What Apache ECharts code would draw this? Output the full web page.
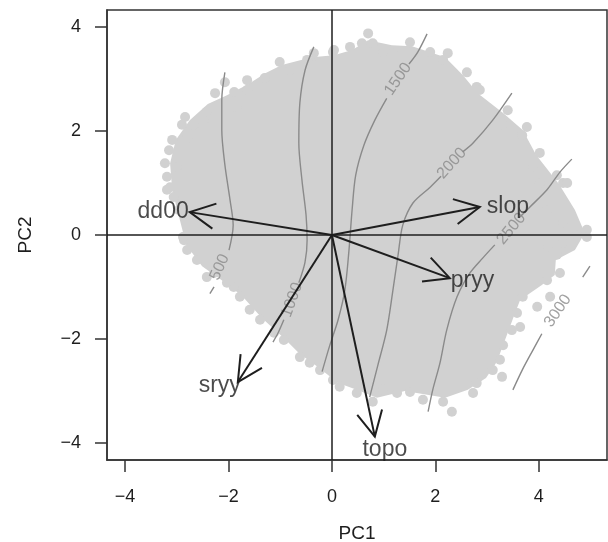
<!DOCTYPE html>
<html>
<head>
    <meta charset="utf-8">
    <title>PCA biplot</title>
    <script src="https://cdn.jsdelivr.net/npm/echarts@6/dist/echarts.min.js"></script>
</head>
<body style="margin:0">
<div id="main" style="width: 608px;height:542px;"></div>
<script type="text/javascript">

        // axis ticks
        var xTicks = [-4, -2, 0, 2, 4];
        var yTicks = [-4, -2, 0, 2, 4];

        // dense body of the score cloud (outline, PC1/PC2)
        var cloudCore = [
            [-2.90, 0.13], [-3.09, 0.87], [-3.13, 1.38], [-3.02, 1.83], [-2.75, 2.21], [-2.40, 2.52],
            [-2.03, 2.69], [-1.62, 2.90], [-1.28, 3.12], [-0.97, 3.27], [-0.39, 3.42], [0.04, 3.46],
            [0.39, 3.56], [0.70, 3.75], [1.16, 3.65], [1.55, 3.63], [2.19, 3.42], [2.53, 3.08],
            [2.82, 2.73], [3.31, 2.35], [3.69, 2.02], [3.95, 1.54], [4.39, 0.98], [4.70, 0.48],
            [4.89, 0.04], [4.70, -0.29], [4.33, -0.48], [4.31, -0.77], [4.06, -0.96], [3.64, -1.25],
            [3.52, -1.56], [3.40, -1.88], [3.19, -2.44], [2.98, -2.75], [2.63, -2.98], [2.19, -3.13],
            [1.41, -3.00], [0.87, -3.13], [0.48, -2.98], [0.12, -2.85], [-0.27, -2.54], [-0.62, -2.29],
            [-0.93, -1.98], [-1.35, -1.60], [-1.74, -1.17], [-2.13, -0.87], [-2.51, -0.60], [-2.82, -0.19]
        ];

        // scattered scores along the ragged edge of the cloud
        var cloudDots = [
            [-1.01, 3.33], [-0.81, 3.17], [-1.30, 3.02], [-1.64, 2.98], [-1.64, 2.79], [-1.89, 2.75],
            [-2.07, 2.94], [-2.26, 2.73], [-2.42, 2.37], [-2.84, 2.27], [-2.67, 2.12], [-2.90, 2.12],
            [-3.09, 1.83], [-2.80, 1.87], [-3.15, 1.63], [-3.23, 1.38], [-3.00, 1.31], [-3.19, 1.12],
            [-3.19, 0.87], [-3.06, 0.73], [-2.96, 0.48], [-0.35, 3.50], [0.04, 3.56], [-0.48, 3.37],
            [-0.23, 3.31], [-1.84, 2.46], [-2.48, 2.21], [0.70, 3.88], [0.35, 3.62], [0.58, 3.69],
            [0.02, 3.52], [0.79, 3.69], [0.99, 3.52], [1.18, 3.50], [1.51, 3.71], [1.90, 3.52],
            [2.24, 3.50], [2.15, 3.37], [2.61, 3.13], [2.80, 2.85], [2.86, 2.79], [3.40, 2.40],
            [3.31, 2.12], [3.77, 2.08], [3.68, 1.92], [4.02, 1.58], [3.89, 1.31], [4.47, 1.00],
            [4.35, 1.15], [4.55, 1.00], [4.02, 1.00], [4.16, 0.48], [4.47, 0.23], [4.93, 0.10],
            [4.74, 0.10], [4.74, 0.00], [4.93, -0.04], [4.47, -0.15], [4.35, -0.38], [4.18, -0.23],
            [4.41, -0.73], [4.16, -0.87], [4.22, -1.19], [3.69, -1.19], [3.97, -1.38], [3.58, -1.50],
            [3.64, -1.77], [3.48, -1.83], [3.31, -2.12], [3.25, -2.40], [3.29, -2.73], [3.11, -2.60],
            [2.73, -3.04], [2.80, -2.85], [2.32, -3.40], [2.15, -3.21], [1.76, -3.17], [1.51, -3.02],
            [1.26, -3.04], [0.79, -3.21], [0.99, -2.98], [0.48, -3.04], [0.15, -2.92], [0.02, -2.79],
            [-0.23, -2.60], [-0.43, -2.46], [-0.62, -2.35], [-0.93, -2.02], [-1.12, -1.88], [-1.39, -1.63],
            [-1.59, -1.44], [-1.78, -1.19], [-1.90, -1.00], [-2.03, -0.92], [-2.28, -0.73], [-2.42, -0.81],
            [-2.61, -0.48], [-2.80, -0.29], [-2.86, -0.10], [-3.13, 0.92], [-2.88, -0.04]
        ];

        // elevation contours, each split where its label sits
        var contourLevels = [500, 1000, 1500, 2000, 2500, 3000];
        var contourLines = [
            [[[-2.07, 3.13], [-2.13, 2.60], [-2.13, 2.02], [-2.07, 1.35], [-1.97, 0.67], [-1.91, 0.19], [-1.99, -0.29]],
             [[-2.28, -1.00], [-2.36, -1.13]]],
            [[[-0.35, 3.62], [-0.52, 3.17], [-0.62, 2.54], [-0.64, 1.77], [-0.58, 1.06], [-0.50, 0.38], [-0.48, -0.10], [-0.52, -0.52], [-0.64, -0.92]],
             [[-0.93, -1.63], [-1.04, -1.88], [-1.14, -2.06]]],
            [[[1.84, 3.87], [1.66, 3.52], [1.49, 3.29]],
             [[1.06, 2.63], [0.83, 2.21], [0.62, 1.73], [0.46, 1.15], [0.39, 0.48], [0.33, -0.29], [0.25, -1.06], [0.12, -1.63], [-0.04, -2.12], [-0.19, -2.63]]],
            [[[3.48, 2.73], [3.11, 2.21], [2.73, 1.77], [2.53, 1.60]],
             [[2.11, 1.13], [1.90, 0.92], [1.57, 0.62], [1.37, 0.19], [1.28, -0.38], [1.18, -1.06], [1.06, -1.83], [0.89, -2.50], [0.73, -3.12]]],
            [[[4.64, 1.46], [4.41, 1.21], [4.16, 0.87], [3.83, 0.54], [3.62, 0.33]],
             [[3.15, -0.19], [2.92, -0.44], [2.67, -0.73], [2.42, -1.19], [2.22, -1.83], [2.09, -2.46], [1.95, -2.98], [1.86, -3.40]]],
            [[[4.99, -0.60], [4.85, -0.81]],
             [[4.06, -1.90], [3.89, -2.21], [3.68, -2.60], [3.50, -2.98]]]
        ];
        var contourLabelAt = [[-2.17, -0.62], [-0.77, -1.25], [1.28, 3.00], [2.32, 1.38], [3.47, 0.12], [4.37, -1.46]];
        var contourLabelAngle = [66, 70, 56, 48, 50, 56];

        // variable loadings (arrow tips)
        var varNames = ['dd00', 'slop', 'pryy', 'sryy', 'topo'];
        var loadings = [[-2.75, 0.44], [2.86, 0.54], [2.28, -0.83], [-1.82, -2.83], [0.83, -3.88]];
        var varLabelPlace = {
            dd00: {position: 'left', distance: 1, offset: [0, 0]},
            slop: {position: 'right', distance: 7, offset: [0, 0]},
            pryy: {position: 'right', distance: 1, offset: [0, 3]},
            sryy: {position: 'left', distance: -3, offset: [0, 4]},
            topo: {position: 'bottom', distance: 2, offset: [10, 0]}
        };

        var ink = '#1e1e1e';
        var cloudGrey = '#d1d1d1';
        var contourGrey = '#8a8a8a';
        var fontFam = 'Liberation Sans, Arial, sans-serif';

        function minusFmt(v){
            return String(v).replace('-', '\u2212');
        }

        function buildOption(){
            var series = [];

            series.push({
                type: 'custom',
                silent: true,
                clip: true,
                data: [[0, 0]],
                renderItem: function (params, api) {
                    return {
                        type: 'polygon',
                        shape: {points: cloudCore.map(function (p) { return api.coord(p); })},
                        style: {fill: cloudGrey}
                    };
                },
                z: 1
            });

            series.push({
                type: 'scatter',
                silent: true,
                symbolSize: 10,
                itemStyle: {color: cloudGrey, opacity: 1},
                data: cloudDots,
                z: 2
            });

            contourLines.forEach(function (segs) {
                segs.forEach(function (seg) {
                    series.push({
                        type: 'line',
                        silent: true,
                        smooth: 0.3,
                        showSymbol: false,
                        symbol: 'none',
                        lineStyle: {color: contourGrey, width: 1.4},
                        data: seg,
                        z: 3
                    });
                });
            });

            series.push({
                type: 'scatter',
                silent: true,
                symbolSize: 0,
                data: contourLevels.map(function (lv, i) {
                    return {
                        value: contourLabelAt[i],
                        label: {
                            show: true, position: 'inside', rotate: contourLabelAngle[i],
                            formatter: String(lv), color: contourGrey,
                            fontSize: 16, fontFamily: fontFam
                        }
                    };
                }),
                z: 4
            });

            // crosshair through the origin
            series.push({
                type: 'line',
                silent: true,
                data: [],
                markLine: {
                    silent: true,
                    symbol: 'none',
                    label: {show: false},
                    lineStyle: {color: ink, width: 1.5, type: 'solid'},
                    data: [{xAxis: 0}, {yAxis: 0}]
                },
                z: 5
            });

            // loading arrows
            series.push({
                type: 'custom',
                silent: true,
                data: loadings,
                renderItem: function (params, api) {
                    var o = api.coord([0, 0]);
                    var t = api.coord([api.value(0), api.value(1)]);
                    var ang = Math.atan2(t[1] - o[1], t[0] - o[0]);
                    var len = 28, spread = 0.47;
                    var a1 = [t[0] - len * Math.cos(ang - spread), t[1] - len * Math.sin(ang - spread)];
                    var a2 = [t[0] - len * Math.cos(ang + spread), t[1] - len * Math.sin(ang + spread)];
                    var st = {stroke: ink, lineWidth: 2, fill: null};
                    return {
                        type: 'group',
                        children: [
                            {type: 'line', shape: {x1: o[0], y1: o[1], x2: t[0], y2: t[1]}, style: st},
                            {type: 'polyline', shape: {points: [a1, t, a2]}, style: st}
                        ]
                    };
                },
                z: 6
            });

            series.push({
                type: 'scatter',
                silent: true,
                symbolSize: 0,
                data: varNames.map(function (nm, i) {
                    var pl = varLabelPlace[nm];
                    return {
                        value: loadings[i],
                        label: {
                            show: true, formatter: nm, position: pl.position,
                            distance: pl.distance, offset: pl.offset,
                            color: ink, fontSize: 23, fontFamily: fontFam
                        }
                    };
                }),
                z: 7
            });

            var axisText = {color: ink, fontSize: 18, fontFamily: fontFam, formatter: minusFmt};
            return {
                animation: false,
                backgroundColor: '#fff',
                grid: {
                    left: 107, right: 1, top: 10, bottom: 82,
                    outerBoundsMode: 'none',
                    show: true, borderColor: '#333', borderWidth: 1.5
                },
                xAxis: {
                    type: 'value', min: -4.35, max: 5.32,
                    name: 'PC1', nameLocation: 'middle', nameGap: 64,
                    nameTextStyle: {color: ink, fontSize: 19, fontFamily: fontFam},
                    splitLine: {show: false},
                    axisLine: {show: true, onZero: false, lineStyle: {color: '#333', width: 1.5}},
                    axisTick: {show: true, length: 12, customValues: xTicks, lineStyle: {color: '#333', width: 1.5}},
                    axisLabel: Object.assign({margin: 28, customValues: xTicks}, axisText)
                },
                yAxis: {
                    type: 'value', min: -4.33, max: 4.33,
                    name: 'PC2', nameLocation: 'middle', nameGap: 72, nameRotate: 90,
                    nameTextStyle: {color: ink, fontSize: 19, fontFamily: fontFam},
                    splitLine: {show: false},
                    axisLine: {show: true, onZero: false, lineStyle: {color: '#333', width: 1.5}},
                    axisTick: {show: true, length: 12, customValues: yTicks, lineStyle: {color: '#333', width: 1.5}},
                    axisLabel: Object.assign({margin: 26, customValues: yTicks}, axisText)
                },
                series: series
            };
        }

        var myChart = echarts.init(document.getElementById('main'));
        myChart.setOption(buildOption());

</script>
</body>
</html>
